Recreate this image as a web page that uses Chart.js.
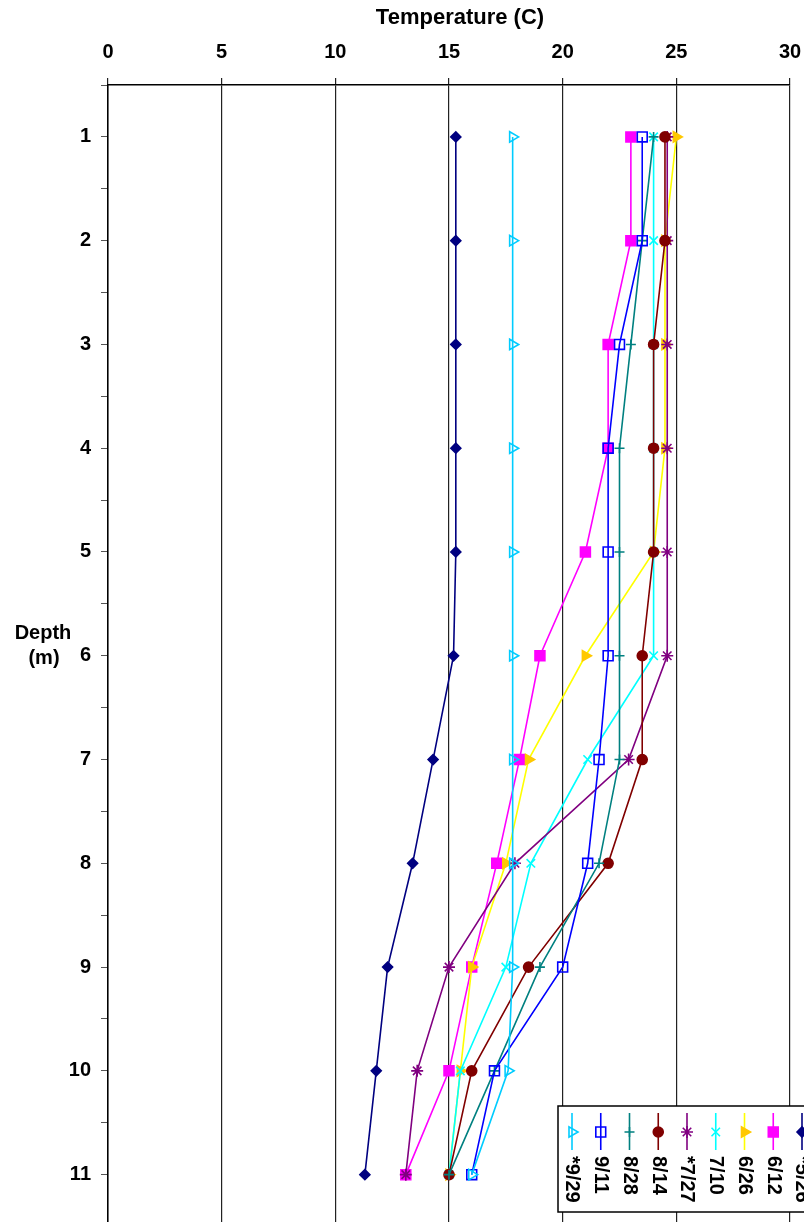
<!DOCTYPE html>
<html>
<head>
<meta charset="utf-8">
<script src="https://cdn.jsdelivr.net/npm/chart.js@4/dist/chart.umd.min.js"></script>
<style>
  html, body { margin: 0; padding: 0; background: #fff; overflow: hidden; }
  #wrap { width: 804px; height: 1222px; overflow: hidden; }
</style>
</head>
<body>
<div id="wrap"><canvas id="profileChart" width="804" height="1287"></canvas></div>
<script>
// depth (m) of each reading
const depths = [1, 2, 3, 4, 5, 6, 7, 8, 9, 10, 11];

// temperature (C) per sampling date
const t0526 = [15.3, 15.3, 15.3, 15.3, 15.3, 15.2, 14.3, 13.4, 12.3, 11.8, 11.3];
const t0612 = [23.0, 23.0, 22.0, 22.0, 21.0, 19.0, 18.1, 17.1, 16.0, 15.0, 13.1];
const t0626 = [25.0, 24.5, 24.5, 24.5, 24.0, 21.0, 18.5, 17.5, 16.0, 15.5, 15.0];
const t0710 = [24.0, 24.0, 24.0, 24.0, 24.0, 24.0, 21.1, 18.6, 17.5, 15.5, 15.0];
const t0727 = [24.6, 24.6, 24.6, 24.6, 24.6, 24.6, 22.9, 17.9, 15.0, 13.6, 13.1];
const t0814 = [24.5, 24.5, 24.0, 24.0, 24.0, 23.5, 23.5, 22.0, 18.5, 16.0, 15.0];
const t0828 = [24.0, 23.5, 23.0, 22.5, 22.5, 22.5, 22.5, 21.6, 19.0, 17.0, 15.0];
const t0911 = [23.5, 23.5, 22.5, 22.0, 22.0, 22.0, 21.6, 21.1, 20.0, 17.0, 16.0];
const t0929 = [17.8, 17.8, 17.8, 17.8, 17.8, 17.8, 17.8, 17.8, 17.8, 17.6, 16.0];

const dateLabels = ['*5/26', '6/12', '6/26', '7/10', '*7/27', '8/14', '8/28', '9/11', '*9/29'];
const tempTicks = [0, 5, 10, 15, 20, 25, 30];

const FONT = '"Liberation Sans", Arial, sans-serif';

// line colour, marker fill, marker edge, marker style, radius, rotation
const looks = [
  { line: '#000080', fill: '#000080', edge: '#000080', style: 'rectRot', r: 5, rot: 0 },
  { line: '#FF00FF', fill: '#FF00FF', edge: '#FF00FF', style: 'rect', r: 7, rot: 0 },
  { line: '#FFFF00', fill: '#FFC800', edge: '#FFC800', style: 'triangle', r: 6, rot: 90 },
  { line: '#00FFFF', fill: '#00FFFF', edge: '#00FFFF', style: 'crossRot', r: 6, rot: 0 },
  { line: '#800080', fill: '#800080', edge: '#800080', style: 'star', r: 6, rot: 0 },
  { line: '#800000', fill: '#800000', edge: '#800000', style: 'circle', r: 5, rot: 0 },
  { line: '#008080', fill: '#008080', edge: '#008080', style: 'cross', r: 5, rot: 0 },
  { line: '#0000FF', fill: 'rgba(255,255,255,0)', edge: '#0000FF', style: 'rect', r: 7, rot: 0 },
  { line: '#00CCFF', fill: 'rgba(255,255,255,0)', edge: '#00CCFF', style: 'triangle', r: 6, rot: 90 }
];

const series = [t0526, t0612, t0626, t0710, t0727, t0814, t0828, t0911, t0929];

const datasets = series.map((temps, i) => ({
  label: dateLabels[i],
  data: temps.map((t, k) => ({ x: t, y: depths[k] })),
  showLine: true,
  borderColor: looks[i].line,
  borderWidth: 1.6,
  pointStyle: looks[i].style,
  pointRadius: looks[i].r,
  pointRotation: looks[i].rot,
  pointBackgroundColor: looks[i].fill,
  pointBorderColor: looks[i].edge,
  pointBorderWidth: 1.6,
  order: series.length - i
}));

// axis titles: both drawn by hand ("Depth (m)" stays upright)
const axisTitles = {
  id: 'axisTitles',
  afterDraw(chart) {
    const ctx = chart.ctx;
    ctx.save();
    ctx.fillStyle = '#000';
    ctx.font = 'bold 22px ' + FONT;
    ctx.textAlign = 'center';
    ctx.textBaseline = 'alphabetic';
    ctx.fillText('Temperature (C)', 460, 24);
    ctx.font = 'bold 20px ' + FONT;
    ctx.textBaseline = 'middle';
    ctx.fillText('Depth', 43, 633);
    ctx.fillText('(m)', 44, 658);
    ctx.restore();
  }
};

// boxed legend with rotated labels, last date on the left
const sideLegend = {
  id: 'sideLegend',
  afterDraw(chart) {
    const ctx = chart.ctx;
    ctx.save();
    ctx.fillStyle = '#fff';
    ctx.fillRect(558, 1106, 260, 106);
    ctx.strokeStyle = '#000';
    ctx.lineWidth = 1.5;
    ctx.strokeRect(558, 1106, 260, 106);
    const n = datasets.length;
    for (let j = 0; j < n; j++) {
      const i = n - 1 - j;
      const ds = datasets[i];
      const x = 572 + j * 28.75;
      ctx.strokeStyle = ds.borderColor;
      ctx.lineWidth = 1.6;
      ctx.beginPath();
      ctx.moveTo(x, 1113);
      ctx.lineTo(x, 1150);
      ctx.stroke();
      ctx.fillStyle = ds.pointBackgroundColor;
      ctx.strokeStyle = ds.pointBorderColor;
      Chart.helpers.drawPoint(ctx, {
        pointStyle: ds.pointStyle,
        radius: ds.pointRadius,
        rotation: ds.pointRotation,
        borderWidth: 1.6
      }, x, 1132);
      ctx.save();
      ctx.translate(x, 1156);
      ctx.rotate(Math.PI / 2);
      ctx.fillStyle = '#000';
      ctx.font = 'bold 20px ' + FONT;
      ctx.textAlign = 'left';
      ctx.textBaseline = 'middle';
      ctx.fillText(ds.label, 0, 0);
      ctx.restore();
    }
    ctx.restore();
  }
};

function noEdgePad(scale) {
  scale.paddingLeft = 0;
  scale.paddingRight = 0;
  scale.paddingTop = 0;
  scale.paddingBottom = 0;
}

new Chart(document.getElementById('profileChart'), {
  type: 'scatter',
  data: { datasets: datasets },
  options: {
    responsive: false,
    animation: false,
    devicePixelRatio: 1,
    layout: { padding: { left: 0, right: 14, top: 0, bottom: 0 } },
    plugins: {
      legend: { display: false },
      tooltip: { enabled: false }
    },
    scales: {
      x: {
        type: 'linear',
        position: 'top',
        min: 0,
        max: 30,
        afterFit(scale) { scale.height = 85; noEdgePad(scale); },
        afterBuildTicks(scale) { scale.ticks = tempTicks.map(v => ({ value: v })); },
        border: { color: '#000', width: 1.5 },
        grid: { color: '#222', lineWidth: 1.2, tickLength: 7 },
        ticks: {
          color: '#000',
          padding: 14,
          maxRotation: 0,
          font: { family: FONT, size: 20, weight: 'bold' }
        }
      },
      y: {
        type: 'linear',
        reverse: true,
        min: 0.5,
        max: 12,
        afterFit(scale) { scale.width = 108; noEdgePad(scale); },
        border: { color: '#000', width: 1.5 },
        grid: { drawOnChartArea: false, color: '#555', tickLength: 7 },
        ticks: {
          stepSize: 0.5,
          color: '#000',
          padding: 10,
          autoSkip: false,
          font: { family: FONT, size: 20, weight: 'bold' },
          callback: v => (Number.isInteger(v) && v <= 11 ? v : '')
        }
      }
    }
  },
  plugins: [axisTitles, sideLegend]
});
</script>
</body>
</html>
